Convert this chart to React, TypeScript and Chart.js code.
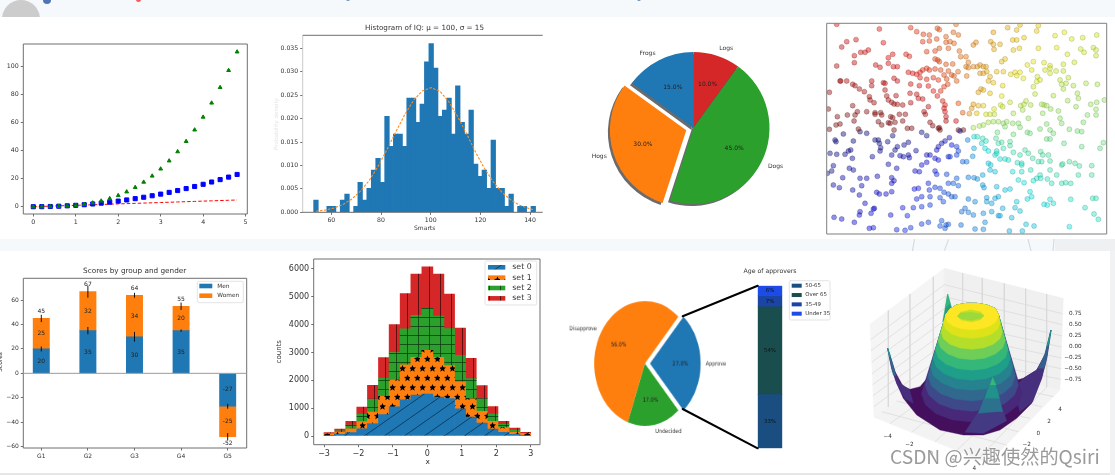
import React, { useEffect, useRef } from "react";
import { Chart, registerables } from "chart.js";

Chart.register(...registerables);

const FONT = "'DejaVu Sans', sans-serif";
const INK = "#333333";
const SPINE = "#6f6f6f";
const C0 = "#1f77b4";
const C1 = "#ff7f0e";
const C2 = "#2ca02c";
const C3 = "#d62728";

/* chart 1: markers */
const powerT = [0, 0.2, 0.4, 0.6, 0.8, 1, 1.2, 1.4, 1.6, 1.8, 2, 2.2, 2.4, 2.6, 2.8, 3, 3.2, 3.4, 3.6, 3.8, 4, 4.2, 4.4, 4.6, 4.8];
const powerSquare = [0, 0.04, 0.16, 0.36, 0.64, 1, 1.44, 1.96, 2.56, 3.24, 4, 4.84, 5.76, 6.76, 7.84, 9, 10.24, 11.56, 12.96, 14.44, 16, 17.64, 19.36, 21.16, 23.04];
const powerCube = [0, 0.01, 0.06, 0.22, 0.51, 1, 1.73, 2.74, 4.1, 5.83, 8, 10.65, 13.82, 17.58, 21.95, 27, 32.77, 39.3, 46.66, 54.87, 64, 74.09, 85.18, 97.34, 110.59];

/* chart 2: histogram */
const histCentres = [53.8, 55.6, 57.4, 59.1, 60.9, 62.7, 64.5, 66.3, 68.1, 69.9, 71.6, 73.4, 75.2, 77, 78.8, 80.6, 82.4, 84.1, 85.9, 87.7, 89.5, 91.3, 93.1, 94.9, 96.6, 98.4, 100.2, 102, 103.8, 105.6, 107.4, 109.1, 110.9, 112.7, 114.5, 116.3, 118.1, 119.9, 121.6, 123.4, 125.2, 127, 128.8, 130.6, 132.4, 134.1, 135.9, 137.7, 139.5, 141.3];
const histDensity = [0.0026, 0, 0, 0.0013, 0.0013, 0, 0.0026, 0.0039, 0, 0.0013, 0.0064, 0.0026, 0.0051, 0.009, 0.0115, 0.0064, 0.0205, 0.0141, 0.0167, 0.0167, 0.0141, 0.0244, 0.0244, 0.0192, 0.0231, 0.0321, 0.036, 0.0308, 0.0205, 0.0218, 0.0244, 0.0167, 0.027, 0.0192, 0.0167, 0.0218, 0.0103, 0.0077, 0.009, 0.0051, 0.0154, 0.0051, 0.0051, 0.0013, 0.0039, 0, 0.0013, 0.0013, 0, 0.0013];
const curveX = [53.8, 57.4, 60.9, 64.5, 68.1, 71.6, 75.2, 78.8, 82.4, 85.9, 89.5, 93.1, 96.6, 100.2, 103.8, 107.4, 110.9, 114.5, 118.1, 121.6, 125.2, 128.8, 132.4, 135.9, 139.5, 141.3];
const curveY = [0.00023, 0.00047, 0.00089, 0.00162, 0.00277, 0.00444, 0.00676, 0.0098, 0.0134, 0.0171, 0.0208, 0.0239, 0.0259, 0.0266, 0.0258, 0.0235, 0.0204, 0.0167, 0.0128, 0.0094, 0.0065, 0.0042, 0.0026, 0.0015, 0.0008, 0.0006];

/* chart 3: pie, clockwise from the top */
const pieLabels = ["Logs", "Dogs", "Hogs", "Frogs"];
const pieValues = [10, 45, 30, 15];
const pieColors = [C3, C2, C1, C0];

/* chart 4: scatter */
const scatterPoints = [
[50,28],[178,42],[272,38],[290,50],[352,40],[358,44],[408,28],[400,52],[415,60],[310,58],[328,60],[378,65],[190,83],[80,80],[108,74],[65,96],[145,105],[135,112],[122,112],[103,122],[103,143],[50,153],[205,128],[218,118],[258,118],[268,124],[308,80],[328,78],[350,72],[385,100],[320,110],[345,108],[378,82],[390,80],[358,100],[402,85],[418,108],[422,125],[438,125],[445,142],[345,132],[353,135],[358,140],[378,148],[398,147],[205,145],[220,155],[232,155],[167,150],[180,157],[320,160],[308,165],[328,165],[345,162],[362,165],[385,168],[372,180],[265,172],[278,175],[290,178],[300,172],[222,190],[232,198],[272,207],[300,188],[320,193],[340,188],[395,180],[402,183],[414,170],[410,198],[380,192],[383,208],[355,195],[60,198],[62,198],[80,198],[98,208],[105,212],[155,198],[155,212],[190,203],[195,205],[195,225],[298,212],[325,213],[362,228],[352,243],[372,215],[340,228],[118,222],[133,230],[28,232],[148,245],[150,255],[162,263],[200,243],[228,242],[205,255],[215,262],[222,267],[232,268],[248,270],[270,235],[272,263],[290,238],[295,250],[308,252],[368,258],[375,270],[372,280],[415,265],[325,275],[312,290],[316,298],[98,272],[25,282],[112,290],[105,300],[102,318],[82,300],[52,305],[140,290],[165,293],[165,298],[182,293],[185,300],[212,305],[218,308],[238,298],[256,298],[375,290],[378,305],[378,318],[408,318],[175,320],[185,330],[205,323],[210,325],[225,322],[248,318],[262,340],[275,340],[330,322],[338,332],[355,340],[358,338],[48,330],[60,327],[28,343],
[460,90],[468,82],[520,52],[563,38],[512,80],[520,88],[540,88],[522,103],[578,75],[590,75],[612,68],[580,105],[598,100],[545,140],[555,132],[438,155],[445,158],[460,155],[472,155],[480,150],[490,155],[498,155],[480,175],[490,175],[500,170],[440,183],[510,185],[520,203],[505,198],[530,170],[550,170],[572,178],[585,172],[600,172],[590,182],[610,190],[548,212],[545,243],[510,235],[483,222],[490,225],[475,232],[460,268],[455,280],[475,272],[490,272],[470,295],[428,293],[448,296],[498,298],[510,298],[523,298],[522,282],[542,270],[548,275],[570,262],[580,295],[602,272],[612,268],[618,258],[632,270],[608,285],[590,45],[600,30],[655,32],[650,48],[705,62],[733,52],[755,72],[788,68],[830,60],[655,100],[710,98],[742,118],[782,102],[820,98],[828,105],[792,112],[828,122],[763,142],[730,148],[690,152],[690,160],[672,143],[640,140],[622,150],[635,165],[675,165],[708,168],[730,168],[690,175],[652,185],[660,195],[720,195],[745,188],[738,205],[725,208],[798,205],[832,208],[760,212],[640,215],[650,200],[645,237],[700,242],[730,222],[772,235],[775,250],[743,257],[768,275],[812,268],[830,262],[853,255],[828,283],[802,300],[828,300],[790,322],[672,270],[680,272],[665,268],[692,282],[715,288],[668,295],[720,310],[725,325],[625,310],[680,327],
[460,338],[478,333],[490,330],[505,322],[520,320],[535,320],[550,325],[560,320],[578,325],[595,325],[600,337],[555,335],[532,352],[580,358],[622,352],[630,355],[660,342],[690,345],[700,355],[748,343],[772,348],[785,350],[680,372],[690,372],[732,385],[785,395],[850,383],[840,400],
[360,345],[415,345],[430,345],[420,348],[305,352],[320,362],[140,355],[120,350],[222,345],[218,362],[165,375],[175,375],[178,385],[45,375],[48,380],[100,378],[203,380],[265,382],[252,390],[232,395],[225,405],[182,398],[180,408],[288,407],[388,368],[375,378],[365,385],[355,395],[350,405],[395,390],[410,395],[415,408],[410,420],[385,425],[390,425],[30,415],[50,418],[75,418],[85,408],[92,405],[97,430],[157,425],[215,420],[240,422],[250,425],[265,420],[268,428],[320,420],[330,420],[345,430],[355,435],[305,450],[320,442],[205,448],[230,460],[40,452],[35,468],[88,460],[100,465],[22,475],[68,488],[120,490],[140,490],[172,484],[215,488],[222,497],[215,505],[285,468],[298,470],[345,468],[350,478],[380,478],[410,490],[400,505],[385,505],[415,512],[295,520],[283,522],[325,505],[328,525],[345,517],[360,520],[372,532],[385,537],[395,545],[405,545],[40,510],[58,518],[98,525],[125,512],[118,540],[170,532],[178,537],[198,537],[215,530],[305,545],[330,545],[360,548],[290,552],[135,565],[163,580],[160,582],[120,590],[118,600],[153,595],[248,578],[262,602],[212,600],[280,578],[305,575],[330,570],[370,560],[365,617],[378,630],[385,628],[305,627],[325,622],[42,607],[65,612],[103,622],[148,640],[160,638],[230,644],[272,638],[255,646],[360,633],[375,640],[70,357],[115,342],
[443,375],[462,365],[472,365],[488,370],[498,378],[485,385],[495,400],[505,408],[462,400],[428,440],[440,440],[458,424],[505,445],[512,450],[510,465],[525,470],[525,420],[530,415],[540,432],[555,432],[565,435],[578,470],[592,443],[605,450],[605,470],[445,487],[462,488],[472,492],[488,480],[488,510],[492,518],[530,515],[555,525],[570,522],[535,545],[500,548],[500,560],[515,565],[525,550],[465,560],[445,552],[435,580],[445,592],[490,595],[515,590],[535,602],[548,580],[590,560],[600,588],[575,608],[460,600],[425,590],[495,622],[423,630],[465,642],[490,643],[568,648],[607,648],[618,628],[642,633],[748,635],[835,613],[822,597],[795,578],[818,550],[828,550],[752,553],[690,553],[700,565],[672,568],[682,570],[635,545],[622,552],[630,530],[585,578],[540,602],[595,495],[650,490],[640,497],[660,480],[662,490],[682,492],[695,505],[612,503],[725,505],[737,503],[752,505],[710,480],[725,450],[748,440],[765,445],[778,453],[815,452],[815,480],[775,480],
[528,370],[545,382],[535,385],[570,380],[570,392],[550,400],[530,408],[615,405],[625,415],[580,412],[600,420],[638,430],[662,410],[668,420],[685,420],[665,440],[655,440],[690,438],[728,447],[690,465],[632,465],[605,445]
];

/* chart 5: stacked bars */
const groupNames = ["G1", "G2", "G3", "G4", "G5"];
const groupPositions = [0, 1, 2, 3, 4];
const menScores = [20, 35, 30, 35, -27];
const womenScores = [25, 32, 34, 20, -25];
const menErrors = [2, 3, 4, 1, 2];
const womenErrors = [3, 5, 2, 3, 3];

/* chart 6: hatched stacked histogram */
const stackCentres = [-2.84, -2.53, -2.21, -1.89, -1.58, -1.26, -0.95, -0.63, -0.32, 0, 0.32, 0.63, 0.95, 1.26, 1.58, 1.89, 2.21, 2.53, 2.84];
const set0 = [25, 60, 120, 260, 450, 770, 1050, 1300, 1470, 1510, 1400, 1350, 980, 680, 470, 250, 130, 60, 25];
const set1 = [55, 70, 140, 260, 410, 660, 960, 1260, 1360, 1570, 1430, 1180, 970, 660, 420, 280, 170, 70, 70];
const set2 = [10, 60, 130, 270, 470, 650, 990, 1290, 1500, 1510, 1480, 1330, 950, 720, 460, 270, 120, 80, 5];
const set3 = [30, 60, 140, 250, 490, 740, 1000, 1270, 1490, 1490, 1510, 1240, 980, 730, 460, 260, 110, 80, 30];
const countTicks = [0, 1000, 2000, 3000, 4000, 5000, 6000];

/* chart 7: pie with a breakdown bar */
const opinionLabels = ["Approve", "Undecided", "Disapprove"];
const opinionValues = [27, 17, 56];
const opinionColors = [C0, C2, C1];
const ageLabels = ["50-65", "Over 65", "35-49", "Under 35"];
const ageShares = [0.33, 0.54, 0.07, 0.06];
const ageColors = ["#1a4e80", "#1a4d4d", "#1a45a5", "#1c4be8"];

/* chart 8: surface read as outlines in the picture */
const paneLeft = [[60, 207], [283, 40], [283, 335], [72, 487]];
const paneRight = [[283, 40], [640, 130], [630, 405], [283, 335]];
const paneFloor = [[72, 487], [283, 335], [630, 405], [415, 625]];
const paneGrid = [
[[338,54],[338,346]],[[397,69],[397,358]],[[463,85],[463,371]],[[527,101],[527,384]],[[590,117],[590,397]],
[[115,166],[115,456]],[[180,117],[180,409]],[[250,65],[250,358]],
[[283,89],[637,176]],[[283,125],[637,209]],[[283,161],[636,243]],[[283,197],[635,276]],[[283,232],[634,309]],[[283,266],[633,341]],[[283,301],[632,373]],
[[283,89],[62,254]],[[283,125],[63,287]],[[283,161],[65,322]],[[283,197],[66,356]],[[283,232],[68,389]],[[283,266],[69,422]],[[283,301],[71,455]],
[[120,506],[338,346]],[[185,532],[397,358]],[[255,560],[463,371]],[[320,587],[527,384]],[[385,612],[590,397]],
[[95,470],[470,570]],[[140,438],[505,530]],[[180,409],[540,490]],[[225,377],[575,455]],[[265,348],[610,425]]
];
const backSpike = [[293, 117], [278, 200], [306, 162]];
const backSpikeTip = [[293, 117], [286, 160], [300, 145]];
const bowlOutline = [[113,280],[125,340],[140,385],[160,430],[200,480],[270,525],[340,540],[400,540],[450,525],[500,490],[545,445],[575,370],[590,310],[603,225],[585,300],[560,345],[520,370],[490,378],[240,360],[210,395],[180,403],[160,395],[135,350]];
const leftWallLow = [[113,280],[125,340],[140,385],[165,432],[190,445],[178,403],[150,385],[133,345]];
const leftWallMid = [[113,280],[122,325],[130,360],[138,362],[128,325]];
const leftWallTip = [[113,280],[118,305],[123,305]];
const rightWallLow = [[603,225],[590,310],[575,370],[548,440],[510,470],[490,400],[520,370],[560,345],[585,300]];
const rightWallMid = [[603,225],[592,300],[583,340],[565,340],[585,295]];
const rightWallTip = [[603,225],[598,265],[590,275]];
const domeCap = [[288,178],[300,162],[320,150],[350,145],[380,145],[410,150],[435,160],[445,178]];
const domeBandA = [[516,416],[505,449],[472,476],[423,495],[365,501],[307,495],[258,476],[226,449],[214,416]];
const domeBandB = [[505,390],[494,420],[464,446],[419,463],[365,469],[311,463],[266,446],[236,420],[225,390]];
const domeBandC = [[496,363],[486,392],[458,416],[415,432],[365,438],[315,432],[272,416],[244,392],[234,363]];
const domeBandD = [[489,336],[480,363],[453,385],[412,401],[365,406],[318,401],[277,385],[250,363],[241,336]];
const domeBandE = [[481,310],[472,335],[447,357],[409,371],[365,376],[321,371],[283,357],[258,335],[249,310]];
const domeBandF = [[474,284],[466,308],[442,328],[407,341],[365,346],[323,341],[288,328],[264,308],[256,284]];
const domeBandG = [[466,257],[458,279],[436,297],[404,310],[365,314],[326,310],[294,297],[272,279],[264,257]];
const domeBandH = [[457,231],[450,251],[430,268],[400,279],[365,283],[330,279],[300,268],[280,251],[273,231]];
const domeBandI = [[450,204],[444,222],[425,237],[398,246],[365,250],[332,246],[305,237],[286,222],[280,204]];
const domeBandJ = [[444,185],[438,200],[421,213],[395,221],[365,224],[335,221],[309,213],[292,200],[286,185]];
const domeHole = [[402,182],[392,194],[365,201],[335,196],[322,184],[332,171],[362,164],[392,170]];
const domeHoleBack = [[402,182],[392,190],[365,196],[335,192],[322,184],[332,174],[362,172],[392,176]];
const frontSpikeLow = [[428,367],[385,470],[345,532],[400,535],[470,497],[450,440]];
const frontSpikeMid = [[428,367],[400,435],[385,475],[440,470],[458,470],[445,415]];
const frontSpikeUp = [[428,367],[412,405],[405,430],[448,430],[440,400]];
const frontSpikeTip = [[428,367],[420,390],[438,390]];
const zTickLabels = ["0.75", "0.50", "0.25", "0.00", "\u22120.25", "\u22120.50", "\u22120.75"];
const zTickRows = [176, 209, 243, 276, 309, 341, 373];
const xTickLabels = ["\u22124", "\u22122", "0", "2", "4"];
const xTickPositions = [[113, 545], [178, 570], [243, 595], [310, 620], [373, 640]];
const yTickLabels = ["4", "2", "0", "\u22122", "\u22124"];
const yTickPositions = [[630, 463], [597, 500], [565, 535], [530, 570], [497, 610]];

type Rect = { left: number; top: number; width: number; height: number };

function drawText(ctx: any, text: string, x: number, y: number, size: number, align: any = "center", color = INK, rotate = 0) {
  ctx.save();
  ctx.translate(x, y);
  if (rotate) ctx.rotate(rotate);
  ctx.font = `${size}px ${FONT}`;
  ctx.fillStyle = color;
  ctx.textAlign = align;
  ctx.textBaseline = "middle";
  ctx.shadowColor = "transparent";
  ctx.fillText(text, 0, 0);
  ctx.restore();
}

function frame(chart: any, sides: any = {}) {
  const { ctx, chartArea: a } = chart;
  const side = (on: any, x1: number, y1: number, x2: number, y2: number) => {
    if (on === false) return;
    ctx.save();
    ctx.strokeStyle = typeof on === "string" ? on : SPINE;
    ctx.lineWidth = 1;
    ctx.beginPath();
    ctx.moveTo(x1, y1);
    ctx.lineTo(x2, y2);
    ctx.stroke();
    ctx.restore();
  };
  side(sides.left, a.left, a.top, a.left, a.bottom);
  side(sides.right, a.right, a.top, a.right, a.bottom);
  side(sides.top, a.left, a.top, a.right, a.top);
  side(sides.bottom, a.left, a.bottom, a.right, a.bottom);
}

function legendBox(ctx: any, r: Rect, entries: any[], size: number, sw: any) {
  ctx.save();
  ctx.fillStyle = "rgba(255,255,255,0.9)";
  ctx.strokeStyle = "#dcdcdc";
  ctx.lineWidth = 0.8;
  ctx.beginPath();
  ctx.roundRect(r.left, r.top, r.width, r.height, 1.5);
  ctx.fill();
  ctx.stroke();
  for (const e of entries) {
    ctx.fillStyle = e.fill;
    ctx.fillRect(sw.x, e.y - sw.h / 2, sw.w, sw.h);
    drawText(ctx, e.label, sw.tx, e.y, size, "left");
  }
  ctx.restore();
}

function cartesian(size: number, min: number, max: number, step: number | undefined, extra: any = {}) {
  return {
    type: "linear",
    min,
    max,
    offset: false,
    border: { display: false },
    grid: { drawOnChartArea: false, drawTicks: true, tickLength: 2.5, color: SPINE, offset: false },
    ticks: {
      font: { family: FONT, size },
      color: INK,
      padding: 2,
      stepSize: step,
      includeBounds: false,
      autoSkip: false,
      maxRotation: 0,
      callback: (v: number) => String(v).replace("-", "\u2212"),
    },
    ...extra,
  };
}

function sizedOptions(ml: number, mt: number, mr: number, mb: number, x: any, y: any) {
  return {
    responsive: false,
    animation: false,
    layout: { padding: { left: 0, top: mt, right: mr, bottom: 0 } },
    plugins: { legend: { display: false }, tooltip: { enabled: false }, title: { display: false } },
    scales: {
      x: { ...x, afterFit: (s: any) => { s.height = mb; } },
      y: { ...y, afterFit: (s: any) => { s.width = ml; } },
    },
  };
}

const zip = (a: number[], b: number[]) => a.map((x, i) => ({ x, y: b[i] }));

/* ------- chart 1 ------- */
const rect1: Rect = { left: 0, top: 30, width: 265, height: 200 };
function config1() {
  return {
    type: "scatter",
    data: {
      datasets: [
        { data: zip(powerT, powerCube), pointStyle: "triangle", pointRadius: 2.2, backgroundColor: "#008000", borderColor: "#008000", order: 1 },
        { data: zip(powerT, powerSquare), pointStyle: "rect", pointRadius: 2.9, backgroundColor: "#0000ff", borderColor: "#0000ff", order: 2 },
        { data: zip(powerT, powerT), showLine: true, borderColor: "#ff0000", borderWidth: 1, borderDash: [3.5, 2], pointRadius: 0, order: 3 },
      ],
    },
    options: sizedOptions(23.3, 14, 17.7, 16, cartesian(6.3, -0.235, 5.04, 1), cartesian(6.3, -5.2, 116.2, 20)),
    plugins: [{ id: "f1", afterDatasetsDraw: (c: any) => frame(c) }],
  };
}

/* ------- chart 2 ------- */
const rect2: Rect = { left: 270, top: 20, width: 285, height: 215 };
function config2() {
  const y = cartesian(6.2, 0, 0.03777, 0.005);
  y.ticks.callback = (v: number) => v.toFixed(3);
  return {
    type: "bar",
    data: {
      datasets: [
        { type: "line", data: zip(curveX, curveY), borderColor: "#ff8a1e", borderWidth: 1.1, borderDash: [2.5, 1.5], pointRadius: 0, order: 0 },
        { type: "bar", data: zip(histCentres, histDensity), backgroundColor: C0, barThickness: 4.6, order: 1 },
      ],
    },
    options: sizedOptions(32.7, 15.3, 12.3, 22.7, cartesian(6.2, 48.46, 145.1, 20), y),
    plugins: [{
      id: "f2",
      afterDatasetsDraw: (c: any) => {
        frame(c, { right: false, left: "#c9c9c9" });
        const ctx = c.ctx;
        drawText(ctx, "Histogram of IQ: \u03bc = 100, \u03c3 = 15", 424.5 - rect2.left, 28.3 - rect2.top, 7.2);
        drawText(ctx, "Smarts", 424.7 - rect2.left, 228.3 - rect2.top, 6);
        drawText(ctx, "Probability density", 276.5 - rect2.left, 124 - rect2.top, 5.6, "center", "#e4e4e4", -Math.PI / 2);
      },
    }],
  };
}

/* ------- pies ------- */
/* ArcElement moves a slice by a quarter of its offset option */
const ARC_OFFSET_FACTOR = 4;
function pieTexts(chart: any, labels: string[], values: number[], labelSize: number, pctSize: number) {
  const ctx = chart.ctx;
  const arcs = chart.getDatasetMeta(0).data;
  const total = values.reduce((s, v) => s + v, 0);
  arcs.forEach((el: any, i: number) => {
    const mid = (el.startAngle + el.endAngle) / 2;
    const off = (el.options.offset || 0) / ARC_OFFSET_FACTOR;
    const R = el.outerRadius;
    const cos = Math.cos(mid);
    const sin = Math.sin(mid);
    drawText(ctx, labels[i], el.x + cos * (R * 1.1 + off), el.y + sin * (R * 1.1 + off), labelSize, cos >= 0 ? "left" : "right");
    drawText(ctx, ((values[i] / total) * 100).toFixed(1) + "%", el.x + cos * (R * 0.6 + off), el.y + sin * (R * 0.6 + off), pctSize, "center", "#222222");
  });
}

const rect3: Rect = { left: 585, top: 28.3, width: 217.4, height: 200 };
function config3() {
  return {
    type: "pie",
    data: {
      labels: pieLabels,
      datasets: [{ data: pieValues, backgroundColor: pieColors, borderWidth: 0, offset: [0, 0, 7.6 * ARC_OFFSET_FACTOR, 0], radius: 76 }],
    },
    options: {
      responsive: false,
      animation: false,
      plugins: { legend: { display: false }, tooltip: { enabled: false } },
    },
    plugins: [{
      id: "f3",
      beforeDatasetDraw: (c: any) => {
        const ctx = c.ctx;
        ctx.save();
        ctx.shadowColor = "rgba(70,70,70,0.8)";
        ctx.shadowBlur = 0.6;
        ctx.shadowOffsetX = -2;
        ctx.shadowOffsetY = 2;
      },
      afterDatasetDraw: (c: any) => c.ctx.restore(),
      afterDatasetsDraw: (c: any) => pieTexts(c, pieLabels, pieValues, 6, 6),
    }],
  };
}

/* ------- chart 4 ------- */
function jet(t: number) {
  const f = (v: number) => Math.max(0, Math.min(1, 1.5 - Math.abs(4 * t - v)));
  return [f(3), f(2), f(1)].map((v) => Math.round(v * 255));
}
const rect4: Rect = { left: 822, top: 18, width: 290, height: 221 };
function config4() {
  const colours = scatterPoints.map(([x, y]) => jet((Math.atan2(345 - y, x - 440) + Math.PI) / (2 * Math.PI)));
  return {
    type: "scatter",
    data: {
      datasets: [{
        data: scatterPoints.map(([x, y]) => ({ x, y })),
        pointRadius: 2.5,
        borderWidth: 0.5,
        backgroundColor: colours.map((c) => `rgba(${c[0] * 0.9},${c[1] * 0.9},${c[2] * 0.9},0.43)`),
        borderColor: colours.map((c) => `rgba(${c[0] * 0.5},${c[1] * 0.5},${c[2] * 0.5},0.5)`),
      }],
    },
    options: {
      responsive: false,
      animation: false,
      layout: { padding: { left: 4.7, top: 5.3, right: 5.3, bottom: 5 } },
      plugins: { legend: { display: false }, tooltip: { enabled: false } },
      scales: {
        x: { type: "linear", display: false, min: 20, max: 860 },
        y: { type: "linear", display: false, min: 25, max: 657, reverse: true },
      },
    },
    plugins: [{ id: "f4", afterDatasetsDraw: (c: any) => frame(c, { left: "#7f7f7f", right: "#7f7f7f", top: "#7f7f7f", bottom: "#7f7f7f" }) }],
  };
}

/* ------- chart 5 ------- */
const rect5: Rect = { left: 0, top: 265, width: 265, height: 205 };
const rect5Title = 270.7;
function config5() {
  const x = cartesian(6, -0.386, 4.408, 1);
  x.ticks.callback = (v: number) => groupNames[v];
  const y = cartesian(6, -61.2, 77.9, 20);
  return {
    type: "bar",
    data: {
      datasets: [
        { label: "Men", data: zip(groupPositions, menScores), backgroundColor: C0, barThickness: 16.3 },
        { label: "Women", data: zip(groupPositions, womenScores), backgroundColor: C1, barThickness: 16.3 },
      ],
    },
    options: sizedOptions(23.3, 13.3, 18.3, 22, { ...x, stacked: true }, { ...y, stacked: true }),
    plugins: [{
      id: "f5",
      afterDatasetsDraw: (c: any) => {
        const { ctx, scales, chartArea } = c;
        frame(c);
        const zero = scales.y.getPixelForValue(0);
        ctx.save();
        ctx.strokeStyle = "#9a9a9a";
        ctx.lineWidth = 1;
        ctx.beginPath();
        ctx.moveTo(chartArea.left, zero);
        ctx.lineTo(chartArea.right, zero);
        ctx.stroke();
        groupPositions.forEach((g, i) => {
          const px = scales.x.getPixelForValue(g);
          const m = menScores[i];
          const t = m + womenScores[i];
          const bar = (v: number, e: number) => {
            ctx.strokeStyle = "#000000";
            ctx.lineWidth = 0.9;
            ctx.beginPath();
            ctx.moveTo(px, scales.y.getPixelForValue(v - e));
            ctx.lineTo(px, scales.y.getPixelForValue(v + e));
            ctx.stroke();
          };
          bar(m, menErrors[i]);
          bar(t, womenErrors[i]);
          drawText(ctx, String(m), px, scales.y.getPixelForValue(m / 2), 6, "center", "#222222");
          drawText(ctx, String(womenScores[i]), px, scales.y.getPixelForValue(m + womenScores[i] / 2), 6, "center", "#222222");
          drawText(ctx, String(t), px, scales.y.getPixelForValue(t) + (t < 0 ? 6.6 : -7.2), 6, "center", "#222222");
        });
        ctx.restore();
        drawText(ctx, "Scores by group and gender", 134.7, rect5Title - rect5.top, 7.3);
        drawText(ctx, "Scores", 0, 362 - rect5.top, 6, "center", INK, -Math.PI / 2);
        ctx.save();
        ctx.translate(-rect5.left, -rect5.top);
        legendBox(ctx, { left: 197.3, top: 281.3, width: 46, height: 21.4 }, [
          { label: "Men", fill: C0, y: 286 },
          { label: "Women", fill: C1, y: 295.7 },
        ], 5.8, { x: 199.3, w: 13, h: 4.6, tx: 217.3 });
        ctx.restore();
      },
    }],
  };
}

/* ------- chart 6 ------- */
function tile(w: number, h: number, base: string, paint: (g: any) => void) {
  const cv = document.createElement("canvas");
  cv.width = w;
  cv.height = h;
  const g: any = cv.getContext("2d");
  g.fillStyle = base;
  g.fillRect(0, 0, w, h);
  paint(g);
  return g.createPattern(cv, "repeat");
}
function star(g: any, cx: number, cy: number, r: number) {
  g.beginPath();
  for (let i = 0; i < 10; i++) {
    const a = -Math.PI / 2 + (i * Math.PI) / 5;
    const q = i % 2 ? r * 0.45 : r;
    g.lineTo(cx + Math.cos(a) * q, cy + Math.sin(a) * q);
  }
  g.closePath();
  g.fill();
}
const rect6: Rect = { left: 270, top: 250, width: 280, height: 222 };
function config6() {
  const p0 = tile(20, 14, C0, (g) => {
    g.strokeStyle = "#06263f";
    g.lineWidth = 0.7;
    g.beginPath();
    g.moveTo(0, 14);
    g.lineTo(20, 0);
    g.stroke();
  });
  const p1 = tile(10, 19, C1, (g) => {
    g.fillStyle = "#000000";
    star(g, 2.5, 4.7, 3.7);
    star(g, 7.5, 14.2, 3.7);
  });
  const p2 = tile(11, 9, C2, (g) => {
    g.strokeStyle = "#07300a";
    g.lineWidth = 0.7;
    g.beginPath();
    g.moveTo(5.5, 0);
    g.lineTo(5.5, 9);
    g.moveTo(0, 4.5);
    g.lineTo(11, 4.5);
    g.stroke();
  });
  const p3 = tile(11, 4, C3, (g) => {
    g.strokeStyle = "#400808";
    g.lineWidth = 0.8;
    g.beginPath();
    g.moveTo(5.5, 0);
    g.lineTo(5.5, 4);
    g.stroke();
  });
  const x = { ...cartesian(8, -3.3, 3.27, 1), stacked: true };
  const y: any = { ...cartesian(8, -311, 6359, undefined), stacked: true };
  y.afterBuildTicks = (s: any) => { s.ticks = countTicks.map((value) => ({ value })); };
  const names = ["set 0", "set 1", "set 2", "set 3"];
  const fills = [p0, p1, p2, p3];
  return {
    type: "bar",
    data: {
      datasets: [set0, set1, set2, set3].map((s, i) => ({ label: names[i], data: zip(stackCentres, s), backgroundColor: fills[i], barThickness: 11 })),
    },
    options: sizedOptions(43.7, 9, 10, 27.3, x, y),
    plugins: [{
      id: "f6",
      afterDatasetsDraw: (c: any) => {
        const ctx = c.ctx;
        frame(c);
        drawText(ctx, "x", 157.7, 211.7, 7.5);
        drawText(ctx, "counts", 8.7, 101.7, 7, "center", INK, -Math.PI / 2);
        ctx.save();
        ctx.translate(-rect6.left, -rect6.top);
        legendBox(ctx, { left: 485, top: 261, width: 51.7, height: 44 }, names.map((label, i) => ({ label, fill: fills[i], y: 267.3 + i * 10.35 })), 7.8, { x: 488, w: 17.3, h: 4.6, tx: 512.3 });
        ctx.restore();
      },
    }],
  };
}

/* ------- chart 7 ------- */
const pie7Squeeze = 0.817;
const rect7: Rect = { left: 555, top: 290, width: 220, height: 146.6 };
function config7() {
  return {
    type: "pie",
    data: {
      labels: opinionLabels,
      datasets: [{ data: opinionValues, backgroundColor: opinionColors, borderWidth: 0, offset: [6.2 * ARC_OFFSET_FACTOR, 0, 0], radius: 62 }],
    },
    options: {
      responsive: false,
      animation: false,
      rotation: 41.4,
      plugins: { legend: { display: false }, tooltip: { enabled: false } },
    },
    plugins: [{ id: "f7", afterDatasetsDraw: (c: any) => pieTexts(c, opinionLabels, opinionValues, 6, 6) }],
  };
}
const rect7b: Rect = { left: 680, top: 262, width: 155, height: 190 };
const connectors = [[682.7, 316.3, 757.7, 285.7], [682.7, 409, 757.7, 448.3]];
function config7b() {
  return {
    type: "bar",
    data: {
      labels: ["Age"],
      datasets: ageShares.map((v, i) => ({ label: ageLabels[i], data: [v], backgroundColor: ageColors[i], categoryPercentage: 1, barPercentage: 1 })),
    },
    options: {
      responsive: false,
      animation: false,
      layout: { padding: { left: 77.7, right: 52.7, top: 23.7, bottom: 3.7 } },
      plugins: { legend: { display: false }, tooltip: { enabled: false } },
      scales: {
        x: { display: false, stacked: true },
        y: { display: false, stacked: true, min: 0, max: 1 },
      },
    },
    plugins: [{
      id: "f7b",
      afterDatasetsDraw: (c: any) => {
        const ctx = c.ctx;
        c.data.datasets.forEach((d: any, i: number) => {
          const el = c.getDatasetMeta(i).data[0];
          drawText(ctx, Math.round(ageShares[i] * 100) + "%", el.x, (el.y + el.base) / 2, 5.4, "center", "#111111");
        });
        ctx.save();
        ctx.translate(-rect7b.left, -rect7b.top);
        ctx.strokeStyle = "#000000";
        ctx.lineWidth = 2;
        ctx.lineCap = "round";
        connectors.forEach(([a, b, e, f]) => {
          ctx.beginPath();
          ctx.moveTo(a, b);
          ctx.lineTo(e, f);
          ctx.stroke();
        });
        drawText(ctx, "Age of approvers", 770, 271.3, 6.2);
        legendBox(ctx, { left: 789.3, top: 280.7, width: 40.7, height: 39.3 }, ageLabels.map((label, i) => ({ label, fill: ageColors[i], y: 285.7 + i * 9.33 })), 5.4, { x: 791.7, w: 10, h: 4, tx: 805.3 });
        ctx.restore();
      },
    }],
  };
}

/* ------- chart 8 ------- */
const rect8: Rect = { left: 850, top: 255, width: 265, height: 220 };
function config8() {
  const poly = (points: number[][], color: string) => ({
    data: points.map(([x, y]) => ({ x, y })),
    polygon: color,
    showLine: false,
    pointRadius: 0,
  });
  const cap = (band: number[][]) => band.concat(domeCap);
  const layers: any[] = [
    poly(paneLeft, "#f5f5f5"),
    poly(paneRight, "#f0f0f0"),
    poly(paneFloor, "#f3f3f3"),
    ...paneGrid.map((seg) => ({ data: seg.map(([x, y]) => ({ x, y })), showLine: true, borderColor: "#d8d8d8", borderWidth: 0.7, pointRadius: 0 })),
    poly(backSpike, "#23a083"),
    poly(backSpikeTip, "#35b779"),
    poly(bowlOutline, "#440f5c"),
    poly(leftWallLow, "#46307e"),
    poly(leftWallMid, "#31688e"),
    poly(leftWallTip, "#1f9e89"),
    poly(rightWallLow, "#46307e"),
    poly(rightWallMid, "#35608d"),
    poly(rightWallTip, "#1f9e89"),
    poly(cap(domeBandA), "#482878"),
    poly(cap(domeBandB), "#3e4989"),
    poly(cap(domeBandC), "#31688e"),
    poly(cap(domeBandD), "#26828e"),
    poly(cap(domeBandE), "#1f9e89"),
    poly(cap(domeBandF), "#35b779"),
    poly(cap(domeBandG), "#6ece58"),
    poly(cap(domeBandH), "#b5de2b"),
    poly(cap(domeBandI), "#dde318"),
    poly(cap(domeBandJ), "#fde725"),
    poly(domeHole, "#c5e021"),
    poly(domeHoleBack, "#9bd93c"),
    poly(frontSpikeLow, "#443a83"),
    poly(frontSpikeMid, "#2c728e"),
    poly(frontSpikeUp, "#21918c"),
    poly(frontSpikeTip, "#35b779"),
  ];
  layers.forEach((d, i) => { d.order = layers.length - i; });
  return {
    type: "scatter",
    data: { datasets: layers },
    options: {
      responsive: false,
      animation: false,
      plugins: { legend: { display: false }, tooltip: { enabled: false } },
      scales: {
        x: { type: "linear", display: false, min: 0, max: 795 },
        y: { type: "linear", display: false, min: 0, max: 660, reverse: true },
      },
    },
    plugins: [{
      id: "f8",
      beforeDatasetDraw: (c: any, args: any) => {
        const d = c.data.datasets[args.index];
        if (!d.polygon) return;
        const ctx = c.ctx;
        const pts = args.meta.data;
        ctx.save();
        ctx.fillStyle = d.polygon;
        ctx.strokeStyle = d.polygon;
        ctx.lineWidth = 0.4;
        ctx.beginPath();
        pts.forEach((p: any, i: number) => (i ? ctx.lineTo(p.x, p.y) : ctx.moveTo(p.x, p.y)));
        ctx.closePath();
        ctx.fill();
        ctx.stroke();
        ctx.restore();
      },
      afterDatasetsDraw: (c: any) => {
        const { ctx, scales } = c;
        const X = (v: number) => scales.x.getPixelForValue(v);
        const Y = (v: number) => scales.y.getPixelForValue(v);
        zTickLabels.forEach((t, i) => drawText(ctx, t, X(695), Y(zTickRows[i]), 5.7, "right"));
        xTickLabels.forEach((t, i) => drawText(ctx, t, X(xTickPositions[i][0]), Y(xTickPositions[i][1]), 5.7));
        yTickLabels.forEach((t, i) => drawText(ctx, t, X(yTickPositions[i][0]), Y(yTickPositions[i][1]), 5.7));
      },
    }],
  };
}

function Panel({ rect, make, squeeze }: { rect: Rect; make: () => any; squeeze?: number }) {
  const ref = useRef<HTMLCanvasElement | null>(null);
  useEffect(() => {
    const chart = new Chart(ref.current as any, make());
    return () => chart.destroy();
  }, []);
  return (
    <canvas
      ref={ref}
      width={rect.width}
      height={rect.height}
      style={{
        position: "absolute",
        left: rect.left,
        top: rect.top,
        width: rect.width,
        height: rect.height,
        filter: "blur(0.45px)",
        transform: squeeze ? `scaleX(${squeeze})` : undefined,
        transformOrigin: "0 0",
      }}
    />
  );
}

const band = "#f5f9fc";
const dot = (left: number, top: number, size: number, background: string) => (
  <div style={{ position: "absolute", left, top, width: size, height: size, borderRadius: "50%", background }} />
);

export default function App() {
  useEffect(() => {
    document.body.style.margin = "0";
    document.body.style.background = "#ffffff";
  }, []);
  return (
    <div style={{ position: "fixed", left: 0, top: 0, width: 1115, height: 475, overflow: "hidden", background: "#ffffff" }}>
      <div style={{ position: "absolute", left: 0, top: 0, width: 1115, height: 16.7, background: band, overflow: "hidden" }}>
        {dot(2, 0, 38, "#cccccc")}
        {dot(42.5, -4, 8, "#4e76b5")}
        {dot(136, -3, 5, "#f25a5a")}
        {dot(346, -3, 4, "#6d8fc4")}
        {dot(637, -3, 4, "#6d8fc4")}
      </div>
      <div style={{ position: "absolute", left: 0, top: 239, width: 1115, height: 11.7, background: band }} />
      <div style={{ position: "absolute", left: 1055, top: 239, width: 60, height: 11.7, background: "#eef0f1" }} />
      <div style={{ position: "absolute", left: 913, top: 239, width: 1, height: 12, background: "#d5d5d5", transform: "rotate(10deg)" }} />
      <div style={{ position: "absolute", left: 946, top: 239, width: 1, height: 12, background: "#d5d5d5", transform: "rotate(20deg)" }} />
      <div style={{ position: "absolute", left: 1029, top: 239, width: 1, height: 12, background: "#d5d5d5", transform: "rotate(-15deg)" }} />
      <div style={{ position: "absolute", left: 1053, top: 239, width: 1, height: 12, background: "#d5d5d5", transform: "rotate(5deg)" }} />
      <div style={{ position: "absolute", left: 0, top: 472.5, width: 1115, height: 3, background: "#e6e6e6" }} />
      <div style={{ position: "absolute", left: 1110, top: 251, width: 5, height: 225, background: "#f0f2f4" }} />
      <Panel rect={rect1} make={config1} />
      <Panel rect={rect2} make={config2} />
      <Panel rect={rect3} make={config3} />
      <Panel rect={rect4} make={config4} />
      <Panel rect={rect5} make={config5} />
      <Panel rect={rect6} make={config6} />
      <Panel rect={rect7} make={config7} squeeze={pie7Squeeze} />
      <Panel rect={rect7b} make={config7b} />
      <Panel rect={rect8} make={config8} />
      <div
        style={{
          position: "absolute",
          left: 890,
          top: 442,
          fontFamily: "'Noto Sans CJK SC', 'Noto Sans', sans-serif",
          fontSize: 19.2,
          lineHeight: "28px",
          color: "#9a9a9a",
          whiteSpace: "nowrap",
          textShadow: "0 0 2px #ffffff, 0 0 2px #ffffff",
        }}
      >
        CSDN @兴趣使然的Qsiri
      </div>
    </div>
  );
}
